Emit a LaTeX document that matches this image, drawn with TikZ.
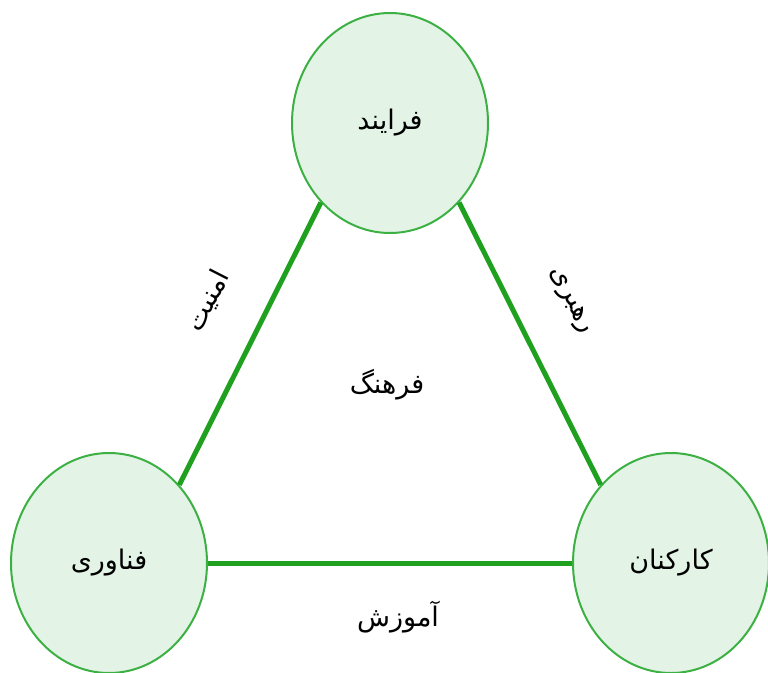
\documentclass[tikz,border=0pt]{standalone}
\usepackage{fontspec}
\usetikzlibrary{shapes.geometric}
\TeXXeTstate=1
\newfontfamily\arabicfont[Script=Arabic]{DejaVu Sans}
\definecolor{edgegreen}{HTML}{1FA01F}
\definecolor{ringgreen}{HTML}{3CB043}
\definecolor{fillgreen}{HTML}{E3F4E6}
\tikzset{
  bubble/.style={ellipse, draw=ringgreen, line width=2pt, fill=fillgreen,
    minimum width=196pt, minimum height=220pt, inner sep=0pt,
    font=\arabicfont\fontsize{27}{31}\selectfont},
  link/.style={draw=edgegreen, line width=5pt},
  lbl/.style={font=\arabicfont\fontsize{27}{31}\selectfont, inner sep=0pt}
}
\begin{document}
\begin{tikzpicture}[x=1pt,y=-1pt]
\useasboundingbox (0,0) rectangle (768,672);
\node[bubble] (top) at (390,123) {\beginR فرایند\endR};
\node[bubble] (left) at (109,563) {\beginR فناوری\endR};
\node[bubble] (right) at (671,563) {\beginR کارکنان\endR};
\draw[link] (top.229) -- (left.48);
\draw[link] (top.-49) -- (right.132);
\draw[link] (left.east) -- (right.west);
\node[lbl, rotate=63] (l1) at (208,301) {\beginR امنیت\endR};
\node[lbl, rotate=-63] (l2) at (570,301) {\beginR رهبری\endR};
\node[lbl] (l3) at (387,385) {\beginR فرهنگ\endR};
\node[lbl] (l4) at (398,617) {\beginR آموزش\endR};
\end{tikzpicture}
\end{document}
